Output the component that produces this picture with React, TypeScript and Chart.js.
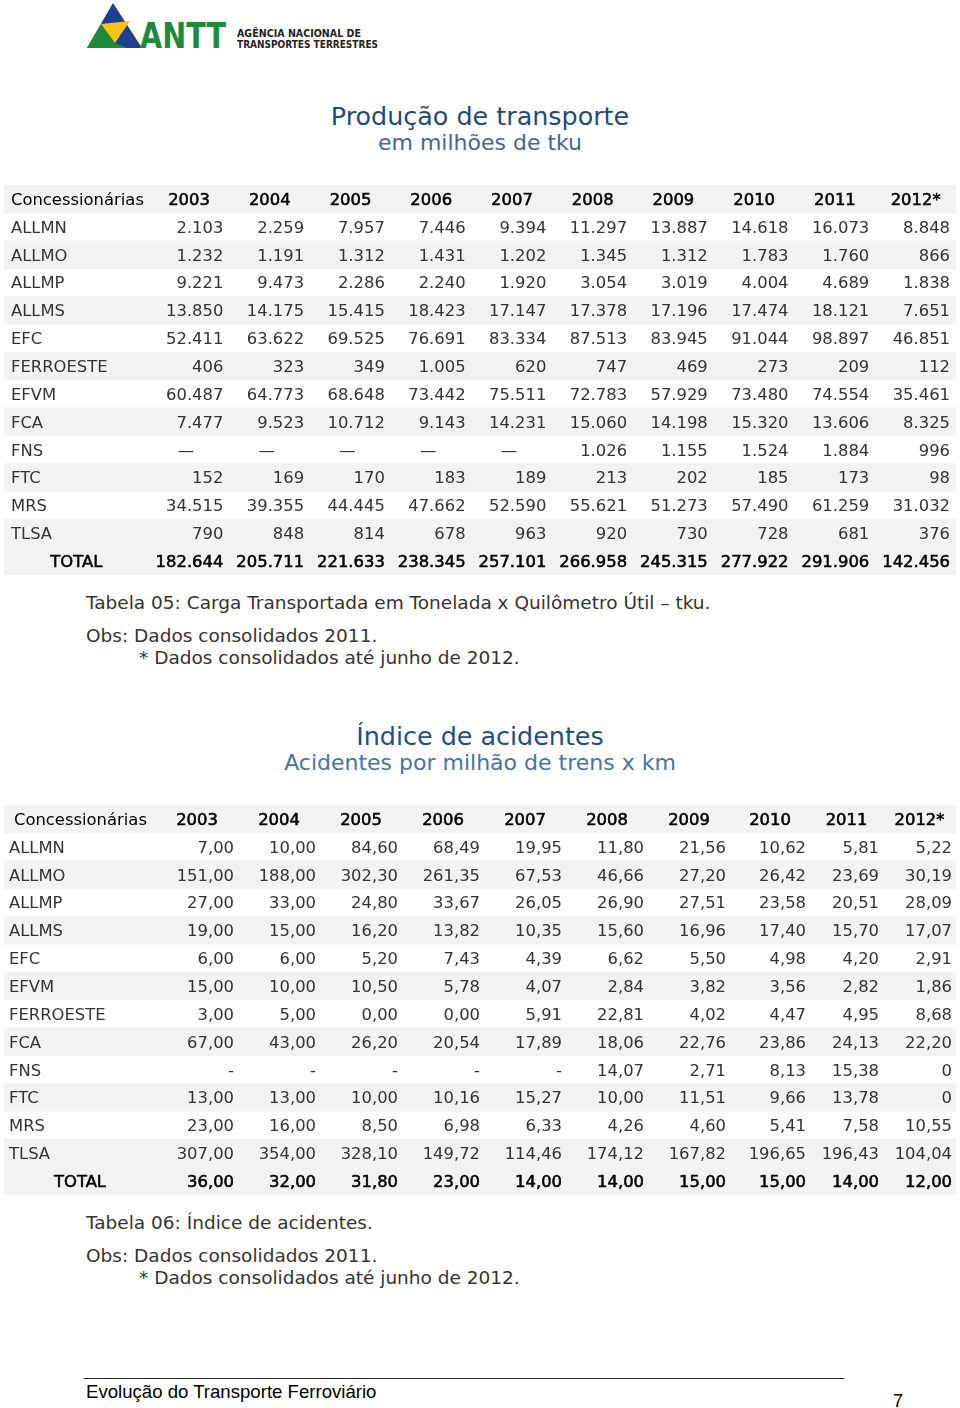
import React, { useEffect, useRef } from "react";
import { Chart, registerables } from "chart.js";

Chart.register(...registerables);

// ---------------- DATA ----------------
const years = ["2003", "2004", "2005", "2006", "2007", "2008", "2009", "2010", "2011", "2012*"];

// Table 05 - Produção de transporte (milhões de tku)
const prodRows = ["ALLMN", "ALLMO", "ALLMP", "ALLMS", "EFC", "FERROESTE", "EFVM", "FCA", "FNS", "FTC", "MRS", "TLSA"];
const prodALLMN = [2103, 2259, 7957, 7446, 9394, 11297, 13887, 14618, 16073, 8848];
const prodALLMO = [1232, 1191, 1312, 1431, 1202, 1345, 1312, 1783, 1760, 866];
const prodALLMP = [9221, 9473, 2286, 2240, 1920, 3054, 3019, 4004, 4689, 1838];
const prodALLMS = [13850, 14175, 15415, 18423, 17147, 17378, 17196, 17474, 18121, 7651];
const prodEFC = [52411, 63622, 69525, 76691, 83334, 87513, 83945, 91044, 98897, 46851];
const prodFERROESTE = [406, 323, 349, 1005, 620, 747, 469, 273, 209, 112];
const prodEFVM = [60487, 64773, 68648, 73442, 75511, 72783, 57929, 73480, 74554, 35461];
const prodFCA = [7477, 9523, 10712, 9143, 14231, 15060, 14198, 15320, 13606, 8325];
const prodFNS = [null, null, null, null, null, 1026, 1155, 1524, 1884, 996];
const prodFTC = [152, 169, 170, 183, 189, 213, 202, 185, 173, 98];
const prodMRS = [34515, 39355, 44445, 47662, 52590, 55621, 51273, 57490, 61259, 31032];
const prodTLSA = [790, 848, 814, 678, 963, 920, 730, 728, 681, 376];
const prodTOTAL = [182644, 205711, 221633, 238345, 257101, 266958, 245315, 277922, 291906, 142456];

// Table 06 - Índice de acidentes (acidentes por milhão de trens x km)
const accRows = ["ALLMN", "ALLMO", "ALLMP", "ALLMS", "EFC", "EFVM", "FERROESTE", "FCA", "FNS", "FTC", "MRS", "TLSA"];
const accALLMN = [7.0, 10.0, 84.6, 68.49, 19.95, 11.8, 21.56, 10.62, 5.81, 5.22];
const accALLMO = [151.0, 188.0, 302.3, 261.35, 67.53, 46.66, 27.2, 26.42, 23.69, 30.19];
const accALLMP = [27.0, 33.0, 24.8, 33.67, 26.05, 26.9, 27.51, 23.58, 20.51, 28.09];
const accALLMS = [19.0, 15.0, 16.2, 13.82, 10.35, 15.6, 16.96, 17.4, 15.7, 17.07];
const accEFC = [6.0, 6.0, 5.2, 7.43, 4.39, 6.62, 5.5, 4.98, 4.2, 2.91];
const accEFVM = [15.0, 10.0, 10.5, 5.78, 4.07, 2.84, 3.82, 3.56, 2.82, 1.86];
const accFERROESTE = [3.0, 5.0, 0.0, 0.0, 5.91, 22.81, 4.02, 4.47, 4.95, 8.68];
const accFCA = [67.0, 43.0, 26.2, 20.54, 17.89, 18.06, 22.76, 23.86, 24.13, 22.2];
const accFNS = [null, null, null, null, null, 14.07, 2.71, 8.13, 15.38, 0];
const accFTC = [13.0, 13.0, 10.0, 10.16, 15.27, 10.0, 11.51, 9.66, 13.78, 0];
const accMRS = [23.0, 16.0, 8.5, 6.98, 6.33, 4.26, 4.6, 5.41, 7.58, 10.55];
const accTLSA = [307.0, 354.0, 328.1, 149.72, 114.46, 174.12, 167.82, 196.65, 196.43, 104.04];
const accTOTAL = [36.0, 32.0, 31.8, 23.0, 14.0, 14.0, 15.0, 15.0, 14.0, 12.0];
// cells printed as a bare "0" in the source
const accPlainZeroCells = [["FNS", "2012*"], ["FTC", "2012*"]];

// ---------------- FORMATTERS ----------------
const fmtTku = (v: number | null) =>
  v === null ? "\u2014" : String(v).replace(/\B(?=(\d{3})+(?!\d))/g, ".");

const fmtIdx = (v: number | null, row: string, col: string) => {
  if (v === null) return "-";
  if (v === 0 && accPlainZeroCells.some(([r, c]) => r === row && c === col)) return "0";
  return v.toFixed(2).replace(".", ",");
};

const FONT = '"DejaVu Sans", sans-serif';

type TableProps = {
  left: number;
  top: number;
  width: number;
  height: number;
  rows: string[];
  values: (number | null)[][];
  total: (number | null)[];
  colWidths: number[];
  numPad: number;
  labelPad: number;
  headPad: number;
  nullAlign: "center" | "right";
  format: (v: number | null, row: string, col: string) => string;
};

function TableChart(p: TableProps) {
  const ref = useRef<HTMLCanvasElement>(null);
  useEffect(() => {
    if (!ref.current) return;
    const totalW = p.colWidths.reduce((a, b) => a + b, 0);
    const edges: number[] = [0];
    p.colWidths.forEach((w) => edges.push(edges[edges.length - 1] + w));
    const labels = ["Concessionárias", ...p.rows, "TOTAL"];
    const last = labels.length - 1;
    const stripes = labels.map((_, i) => (i % 2 === 0 || i === last ? [0, totalW] : null));
    const fs = 16.4;

    const textPlugin = {
      id: "tableText",
      afterDatasetsDraw(chart: any) {
        const { ctx } = chart;
        const xs = chart.scales.x;
        const ys = chart.scales.y;
        ctx.save();
        ctx.font = `${fs}px ${FONT}`;
        ctx.textBaseline = "alphabetic";
        const draw = (t: string, x: number, y: number, align: CanvasTextAlign, color: string, bold: boolean) => {
          ctx.textAlign = align;
          ctx.fillStyle = color;
          ctx.fillText(t, x, y);
          if (bold) {
            ctx.lineWidth = 0.55;
            ctx.strokeStyle = color;
            ctx.strokeText(t, x, y);
          }
        };
        labels.forEach((lab, r) => {
          const base = ys.getPixelForValue(r) + fs * 0.36;
          if (r === 0) {
            draw(lab, xs.getPixelForValue(edges[0]) + p.headPad, base, "left", "#000", false);
            years.forEach((yr, c) => {
              const cx = xs.getPixelForValue((edges[c + 1] + edges[c + 2]) / 2);
              draw(yr, cx, base, "center", "#000", true);
            });
            return;
          }
          const isTotal = r === last;
          const vals = isTotal ? p.total : p.values[r - 1];
          if (isTotal) {
            draw(lab, xs.getPixelForValue(edges[1] / 2), base, "center", "#000", true);
          } else {
            draw(lab, xs.getPixelForValue(edges[0]) + p.labelPad, base, "left", "#333", false);
          }
          vals.forEach((v, c) => {
            const t = p.format(v, lab, years[c]);
            const color = isTotal ? "#000" : "#333";
            if (v === null && p.nullAlign === "center") {
              const cx = xs.getPixelForValue((edges[c + 1] + edges[c + 2]) / 2) - p.numPad / 2;
              draw(t, cx, base, "center", color, isTotal);
            } else {
              const rx = xs.getPixelForValue(edges[c + 2]) - p.numPad;
              draw(t, rx, base, "right", color, isTotal);
            }
          });
        });
        ctx.restore();
      },
    };

    const chart = new Chart(ref.current, {
      type: "bar",
      data: {
        labels,
        datasets: [
          {
            data: stripes as any,
            backgroundColor: "#f2f2f2",
            borderWidth: 0,
            barPercentage: 1,
            categoryPercentage: 1,
          },
        ],
      },
      options: {
        indexAxis: "y",
        responsive: false,
        animation: false,
        layout: { padding: 0 },
        scales: {
          x: { type: "linear", min: 0, max: totalW, display: false },
          y: { type: "category", display: false, offset: true },
        },
        plugins: { legend: { display: false }, tooltip: { enabled: false }, title: { display: false } },
      },
      plugins: [textPlugin],
    });
    return () => chart.destroy();
  }, []);
  return (
    <canvas
      ref={ref}
      width={p.width}
      height={p.height}
      style={{ position: "absolute", left: p.left, top: p.top, width: p.width, height: p.height }}
    />
  );
}

function Line(props: {
  x?: number;
  baseline: number;
  size: number;
  color: string;
  family?: string;
  center?: boolean;
  children: React.ReactNode;
}) {
  const top = props.baseline - props.size * 0.846;
  return (
    <div
      style={{
        position: "absolute",
        left: props.center ? 0 : props.x,
        width: props.center ? 960 : undefined,
        textAlign: props.center ? "center" : "left",
        top,
        fontSize: props.size,
        lineHeight: `${props.size}px`,
        fontFamily: props.family || FONT,
        color: props.color,
        whiteSpace: "pre",
      }}
    >
      {props.children}
    </div>
  );
}

function Logo() {
  return (
    <svg width={310} height={56} style={{ position: "absolute", left: 80, top: 0 }}>
      <polygon points="33,3 7,48 62,48" fill="#1d3f8f" />
      <polygon points="7,48 21,24 35,43 47,48" fill="#1f8a3e" />
      <polygon points="21,24 50,21 35,43" fill="#f3c21b" />
      <text
        x={60}
        y={48}
        fill="#1f8a3e"
        fontFamily='"DejaVu Sans", sans-serif'
        fontWeight={900}
        fontSize={35}
        textLength={86}
        lengthAdjust="spacingAndGlyphs"
      >
        ANTT
      </text>
      <text x={157} y={37} fill="#222" fontFamily='"DejaVu Sans", sans-serif' fontWeight={700} fontSize={10.5} textLength={124} lengthAdjust="spacingAndGlyphs">
        AGÊNCIA NACIONAL DE
      </text>
      <text x={157} y={48} fill="#222" fontFamily='"DejaVu Sans", sans-serif' fontWeight={700} fontSize={10.5} textLength={141} lengthAdjust="spacingAndGlyphs">
        TRANSPORTES TERRESTRES
      </text>
    </svg>
  );
}

export default function App() {
  const capSize = 18.5;
  return (
    <div style={{ position: "absolute", left: 0, top: 0, width: 960, height: 1408, background: "#fff", overflow: "hidden" }}>
      <Logo />

      <Line center baseline={125} size={25.4} color="#1f4a7c">Produção de transporte</Line>
      <Line center baseline={151} size={22} color="#4a6688">em milhões de tku</Line>

      <TableChart
        left={4}
        top={185}
        width={952}
        height={390}
        rows={prodRows}
        values={[prodALLMN, prodALLMO, prodALLMP, prodALLMS, prodEFC, prodFERROESTE, prodEFVM, prodFCA, prodFNS, prodFTC, prodMRS, prodTLSA]}
        total={prodTOTAL}
        colWidths={[144.6, 80.7, 80.7, 80.7, 80.7, 80.7, 80.7, 80.7, 80.7, 80.7, 80.7]}
        numPad={6}
        labelPad={7}
        headPad={7}
        nullAlign="center"
        format={(v) => fmtTku(v)}
      />

      <Line x={86} baseline={610} size={capSize} color="#333">Tabela 05: Carga Transportada em Tonelada x Quilômetro Útil – tku.</Line>
      <Line x={86} baseline={643} size={capSize} color="#333">Obs: Dados consolidados 2011.</Line>
      <Line x={139} baseline={665} size={capSize} color="#333">* Dados consolidados até junho de 2012.</Line>

      <Line center baseline={745} size={25.4} color="#1c4f8a">Índice de acidentes</Line>
      <Line center baseline={771} size={22} color="#4573a8">Acidentes por milhão de trens x km</Line>

      <TableChart
        left={4}
        top={805}
        width={952}
        height={390}
        rows={accRows}
        values={[accALLMN, accALLMO, accALLMP, accALLMS, accEFC, accEFVM, accFERROESTE, accFCA, accFNS, accFTC, accMRS, accTLSA]}
        total={accTOTAL}
        colWidths={[152, 82, 82, 82, 82, 82, 82, 82, 80, 73, 73]}
        numPad={4}
        labelPad={5}
        headPad={10}
        nullAlign="right"
        format={fmtIdx}
      />

      <Line x={86} baseline={1230} size={capSize} color="#333">Tabela 06: Índice de acidentes.</Line>
      <Line x={86} baseline={1263} size={capSize} color="#333">Obs: Dados consolidados 2011.</Line>
      <Line x={139} baseline={1285} size={capSize} color="#333">* Dados consolidados até junho de 2012.</Line>

      <div style={{ position: "absolute", left: 84, top: 1378, width: 760, height: 1, background: "#222" }} />
      <Line x={86} baseline={1399} size={18.6} color="#000" family='"Liberation Sans", Arial, sans-serif'>
        Evolução do Transporte Ferroviário
      </Line>
      <Line x={893} baseline={1407} size={18} color="#000" family='"Liberation Sans", Arial, sans-serif'>
        7
      </Line>
    </div>
  );
}
